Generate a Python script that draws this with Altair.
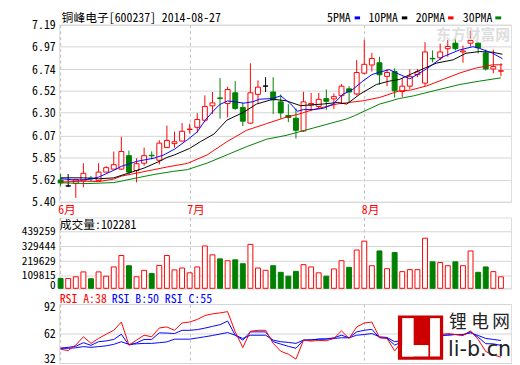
import altair as alt
import pandas as pd

# ---------------- data ----------------
opens = [5.62, 5.56, 5.585, 5.611, 5.64, 5.614, 5.70, 5.73, 5.73, 5.866,
         5.716, 5.79, 5.87, 5.82, 5.948, 5.988, 6.014, 6.13, 6.153, 6.225,
         6.37, 6.45, 6.393, 6.502, 6.354, 6.195, 6.486, 6.57, 6.51, 6.41,
         6.272, 6.245, 6.116, 6.377, 6.364, 6.443, 6.44, 6.473, 6.542, 6.49,
         6.70, 6.783, 6.806, 6.668, 6.717, 6.515, 6.569, 6.686, 6.60, 6.85,
         6.856, 6.948, 7.004, 6.915, 7.004, 7.004, 6.905, 6.743, 6.72]
highs = [5.68, 5.68, 5.63, 5.79, 5.66, 5.79, 5.76, 5.908, 6.057, 5.918,
         5.84, 5.948, 5.91, 6.022, 6.17, 6.11, 6.196, 6.19, 6.295, 6.476,
         6.51, 6.65, 6.562, 6.62, 6.403, 6.80, 6.628, 6.66, 6.66, 6.485,
         6.387, 6.344, 6.512, 6.50, 6.50, 6.535, 6.495, 6.59, 6.569, 6.832,
         7.037, 6.905, 6.866, 6.74, 6.75, 6.65, 6.74, 6.745, 7.014, 6.93,
         6.998, 7.037, 7.06, 6.98, 7.13, 7.01, 6.938, 6.938, 6.80]
lows = [5.56, 5.55, 5.44, 5.547, 5.61, 5.61, 5.70, 5.73, 5.72, 5.67,
        5.596, 5.765, 5.83, 5.777, 5.945, 5.948, 6.01, 6.09, 6.10, 6.205,
        6.288, 6.24, 6.255, 6.33, 6.166, 6.19, 6.40, 6.51, 6.288, 6.24,
        6.205, 6.04, 6.106, 6.32, 6.337, 6.33, 6.337, 6.387, 6.40, 6.476,
        6.69, 6.717, 6.585, 6.569, 6.453, 6.46, 6.54, 6.66, 6.57, 6.81,
        6.832, 6.866, 6.93, 6.806, 6.97, 6.90, 6.727, 6.70, 6.67]
closes = [5.59, 5.56, 5.625, 5.688, 5.63, 5.70, 5.745, 5.775, 5.908, 5.70,
          5.785, 5.866, 5.865, 5.993, 6.02, 6.007, 6.113, 6.135, 6.232, 6.364,
          6.40, 6.445, 6.535, 6.344, 6.215, 6.502, 6.559, 6.57, 6.43, 6.298,
          6.252, 6.123, 6.41, 6.394, 6.436, 6.416, 6.463, 6.569, 6.51, 6.707,
          6.79, 6.849, 6.684, 6.707, 6.522, 6.569, 6.668, 6.713, 6.915, 6.845,
          6.915, 6.97, 6.948, 6.925, 7.03, 6.958, 6.743, 6.767, 6.725]
kinds = ["down", "flat", "up", "up", "down", "up", "up", "up", "up", "down",
         "up", "up", "down", "up", "up", "up", "up", "up", "up", "up",
         "up", "down", "up", "down", "down", "up", "up", "flat", "down", "down",
         "down", "down", "up", "up", "up", "down", "up", "up", "down", "up",
         "up", "up", "down", "up", "down", "up", "up", "up", "up", "down",
         "up", "up", "down", "up", "up", "down", "down", "up", "up"]
volumes = [90000, 90000, 102500, 139000, 88000, 139000, 107000, 176000, 261000, 185000,
           102500, 151000, 127000, 187000, 261000, 154000, 168000, 132000, 176000, 332000,
           266000, 236000, 222000, 229000, 200000, 344000, 168000, 151000, 185000, 136000,
           107000, 143000, 193000, 176000, 132000, 107000, 161000, 222000, 173000, 302000,
           368000, 185000, 295000, 163000, 283000, 141000, 156000, 156000, 390000, 214000,
           209000, 185000, 214000, 185000, 295000, 136000, 176000, 141000, 102281]

ma5_idx = [0, 2, 3.6, 5, 7, 8, 10, 12.3, 13.6, 15, 16.7, 18, 19, 20.2, 21, 22, 23,
           24.1, 25.3, 26.2, 27.9, 29, 30.3, 31.2, 32, 33.3, 34.6, 35.9, 37.2, 38.5,
           39.8, 41, 42, 43.3, 44.5, 46, 48.2, 50.4, 52.5, 54.3, 55.2, 56.9, 58.2]
ma5_val = [5.634, 5.619, 5.626, 5.649, 5.718, 5.758, 5.808, 5.841, 5.874, 5.932, 6.027,
           6.106, 6.220, 6.325, 6.385, 6.419, 6.411, 6.397, 6.411, 6.437, 6.444, 6.471,
           6.390, 6.315, 6.332, 6.332, 6.345, 6.388, 6.487, 6.537, 6.620, 6.686, 6.710,
           6.736, 6.693, 6.643, 6.743, 6.867, 6.934, 6.968, 6.951, 6.902, 6.847]

ma10_idx = [0, 3, 5, 7, 9, 11, 13, 14, 15, 17, 18.4, 20.2, 21.9, 24.1, 25.8, 28, 29.7,
            31.6, 34.5, 36.5, 37.7, 39.4, 41.6, 43.3, 44.6, 46.5, 49.5, 51.7, 53.4,
            55.2, 56.9, 58.2]
ma10_val = [5.642, 5.642, 5.632, 5.642, 5.691, 5.741, 5.808, 5.848, 5.874, 5.94, 6.007,
            6.085, 6.225, 6.305, 6.388, 6.437, 6.421, 6.372, 6.388, 6.404, 6.388, 6.487,
            6.586, 6.620, 6.636, 6.703, 6.802, 6.835, 6.902, 6.919, 6.912, 6.892]

ma20_idx = [0, 3, 5, 7, 8, 10.1, 12.3, 14.1, 16.7, 19.3, 21.9, 24.5, 27.1, 29.7, 31.3,
            33.3, 36.5, 39.8, 42, 44.6, 46.1, 48.2, 50.4, 52.6, 54.7, 56.9, 58.2]
ma20_val = [5.599, 5.609, 5.604, 5.629, 5.659, 5.691, 5.725, 5.753, 5.788, 5.874, 6.007,
            6.123, 6.189, 6.255, 6.285, 6.332, 6.39, 6.421, 6.454, 6.521, 6.529, 6.571,
            6.636, 6.703, 6.752, 6.785, 6.785]

ma30_idx = [0, 3.6, 7, 8, 10.1, 12.3, 14.9, 16.7, 19.3, 21.9, 24.5, 27.1, 29.7, 33.3,
            37.7, 38.7, 42, 44.6, 46.5, 49.1, 52.6, 55.2, 58]
ma30_val = [5.592, 5.584, 5.594, 5.609, 5.642, 5.676, 5.708, 5.725, 5.791, 5.874, 5.957,
            6.032, 6.071, 6.146, 6.238, 6.27, 6.387, 6.444, 6.471, 6.521, 6.586, 6.620,
            6.653]

rsi_a = [46, 44.7, 50.3, 58.7, 52, 57, 61.3, 65.3, 73.7, 50.3,
         55.3, 60.3, 58.7, 67.7, 68.7, 65.3, 72.7, 73.7, 76.3, 80.3,
         82, 83, 84.3, 63.7, 47.7, 64.3, 65.3, 65.3, 52, 44,
         41, 36, 55.3, 54.3, 55, 54.7, 57, 64.7, 57, 68.7,
         72.7, 73.7, 58, 57, 44.3, 54.3, 57, 60, 64.3, 59,
         61, 62, 61, 60, 64.7, 56, 43.7, 40.3, 38]
rsi_b = [47, 48, 49, 52.7, 50, 53.7, 54.5, 56, 61.3, 50.3,
         52.5, 56, 56, 62.7, 62.5, 62, 65.3, 65.3, 66, 67.5,
         69.3, 71, 74.7, 60.3, 55.3, 63.7, 63.7, 63.7, 53.7, 51.3,
         49, 47, 55.3, 55.5, 56.3, 56.5, 57.7, 60.3, 57.7, 63.7,
         65.3, 66.3, 57.7, 57.3, 50.3, 53.5, 55.3, 57.5, 60, 59,
         60, 60.5, 61, 60.5, 63.7, 58.3, 51.7, 51.5, 50]
rsi_c = [47, 47, 47.5, 48.7, 48, 48.7, 49.5, 51, 53.7, 51,
         51.5, 52, 52, 52.7, 53.5, 56.3, 56.3, 56.3, 57.5, 58.7,
         60, 61.5, 63, 60.3, 57, 60.3, 60.3, 60.3, 55.3, 53.7,
         53, 52, 55.3, 55.5, 56.3, 56.5, 57, 57.7, 57.7, 60.3,
         61, 62, 58.7, 58, 53.7, 55, 56.3, 58, 59.7, 59.5,
         60, 60.5, 61, 61, 62.7, 60, 57, 56, 55]

price_ticks = [5.40, 5.62, 5.85, 6.07, 6.30, 6.52, 6.74, 6.97, 7.19]
vol_ticks = [109815, 219629, 329444, 439259]
rsi_ticks = [32, 62, 92]
month_idx = [0, 17, 40]
month_labels = ["6月", "7月", "8月"]

title_text = "铜峰电子[600237] 2014-08-27"
vol_title = "成交量:102281"
rsi_titles = ["RSI_A:38", "RSI_B:50", "RSI_C:55"]
legend_names = ["5PMA", "10PMA", "20PMA", "30PMA"]
logo_cn_chars = ["锂", "电", "网"]
logo_en = "li-b.cn"
watermark_text = "东方财富网"

# ---------------- styling ----------------
MONO = "Noto Sans Mono CJK SC, DejaVu Sans Mono, monospace"
RED, GREEN, BLUE, BLACK = "#ff0000", "#008000", "#0000ff", "#000000"
W = 459.5
H1, H2, H3 = 180, 72, 60
XDOM = [-0.194, 59.33]
VOL_LO = 16838
VOL_HI = 543950

n = len(closes)
idx = list(range(n))
cdf = pd.DataFrame({"i": idx, "o": opens, "h": highs, "l": lows, "c": closes,
                    "k": kinds, "v": volumes})
cdf["vk"] = ["down" if k == "down" else "up" for k in kinds]

xs = alt.Scale(domain=XDOM, nice=False, zero=False, padding=0)
kdom = ["up", "down", "flat"]
stroke_sc = alt.Scale(domain=kdom, range=[RED, GREEN, BLACK])
fill_sc = alt.Scale(domain=kdom, range=["#ffffff", GREEN, BLACK])

month_expr = " : ".join(
    [f"datum.value == {m} ? '{lab}'" for m, lab in zip(month_idx, month_labels)]
) + " : ''"

def xaxis(labels):
    if labels:
        return alt.Axis(values=month_idx, labelExpr=month_expr, grid=True,
                        gridDash=[3, 3], gridColor="#bdbdbd", ticks=False, domain=False,
                        labelColor=RED, labelAlign="left", labelOffset=-3, labelPadding=3,
                        labelFont=MONO, labelFontSize=12, labelBaseline="top", title=None,
                        labelOverlap=False)
    return alt.Axis(values=month_idx, labels=False, grid=True, gridDash=[3, 3],
                    gridColor="#bdbdbd", ticks=False, domain=False, title=None)

def yaxis(vals, expr=None, flush=False, size=12):
    kw = dict(values=vals, grid=True, gridColor="#d4d4d4", ticks=False, domain=False,
              labelFont=MONO, labelFontSize=size, labelColor=BLACK, labelPadding=4,
              title=None, labelOverlap=False, labelFlush=flush)
    if flush:
        kw["labelFlushOffset"] = 2
    if expr:
        kw["labelExpr"] = expr
    return alt.Axis(**kw)

def text_layer(txt, x, y, color=BLACK, size=12, font=MONO, weight="normal", align="left"):
    return alt.Chart(pd.DataFrame({"t": [txt]})).mark_text(
        align=align, baseline="middle", font=font, fontSize=size, color=color,
        fontWeight=weight
    ).encode(text="t:N", x=alt.value(x), y=alt.value(y))

def box(x1, x2, y1, y2, color):
    return alt.Chart(pd.DataFrame({"a": [0]})).mark_rect(color=color).encode(
        x=alt.value(x1), x2=alt.value(x2), y=alt.value(y1), y2=alt.value(y2))

# ---------------- price panel ----------------
py = alt.Scale(domain=[5.40, 7.19], nice=False, zero=False, padding=0)
pax = yaxis(price_ticks, "format(datum.value, '.2f')")
base = alt.Chart(cdf)

wick = base.mark_rule(strokeWidth=1).encode(
    x=alt.X("i:Q", scale=xs, axis=xaxis(True)),
    y=alt.Y("l:Q", scale=py, axis=pax),
    y2="h:Q",
    color=alt.Color("k:N", scale=stroke_sc, legend=None),
)
body = base.mark_bar(size=5, strokeWidth=1).encode(
    x=alt.X("i:Q", scale=xs, axis=xaxis(True)),
    y=alt.Y("o:Q", scale=py, axis=pax),
    y2="c:Q",
    fill=alt.Fill("k:N", scale=fill_sc, legend=None),
    stroke=alt.Stroke("k:N", scale=stroke_sc, legend=None),
)

def ma_line(ix, vals, color):
    return alt.Chart(pd.DataFrame({"i": ix, "v": vals})).mark_line(
        strokeWidth=1, color=color, clip=True
    ).encode(x=alt.X("i:Q", scale=xs, axis=xaxis(True)),
             y=alt.Y("v:Q", scale=py, axis=pax))

legend_x = [272.5, 314.5, 362.5, 410.5]
dash_x = [(300.5, 306), (348.5, 354), (395.5, 401), (443.5, 449.5)]
legend_cols = [BLUE, BLACK, RED, GREEN]
legend_layers = []
for name, lx, (d1, d2), col in zip(legend_names, legend_x, dash_x, legend_cols):
    legend_layers.append(text_layer(name, lx, -7))
    legend_layers.append(
        alt.Chart(pd.DataFrame({"a": [0]})).mark_rule(color=col, strokeWidth=3).encode(
            x=alt.value(d1), x2=alt.value(d2), y=alt.value(-7))
    )

anchor = alt.Chart(pd.DataFrame({"a": [0]})).mark_rule(strokeOpacity=0).encode(
    x=alt.value(-51.5), y=alt.value(-13), y2=alt.value(0))

watermark = text_layer(watermark_text, 383.5, 10.5, color="#dedede", size=15,
                       font="Noto Sans CJK SC", weight="bold")

price = alt.layer(
    wick, watermark, body,
    ma_line(ma30_idx, ma30_val, GREEN),
    ma_line(ma20_idx, ma20_val, RED),
    ma_line(ma10_idx, ma10_val, BLACK),
    ma_line(ma5_idx, ma5_val, BLUE),
    text_layer(title_text, 2.5, -7),
    anchor,
    *legend_layers,
).properties(width=W, height=H1)

# ---------------- volume panel ----------------
vy = alt.Scale(domain=[VOL_LO, VOL_HI], nice=False, zero=False, padding=0)
vol = alt.Chart(cdf).mark_bar(size=5, strokeWidth=1).encode(
    x=alt.X("i:Q", scale=xs, axis=xaxis(False)),
    y=alt.Y("v:Q", scale=vy,
            axis=yaxis([VOL_LO] + vol_ticks,
                       "datum.value < 50000 ? '0' : format(datum.value, 'd')",
                       flush=True, size=11.5)),
    y2=alt.datum(VOL_LO),
    fill=alt.Fill("vk:N", scale=alt.Scale(domain=["up", "down"], range=["#ffffff", GREEN]), legend=None),
    stroke=alt.Stroke("vk:N", scale=alt.Scale(domain=["up", "down"], range=[RED, GREEN]), legend=None),
)
rsi_x = [0.5, 53.5, 107.5]
rsi_cols = [RED, BLUE, BLUE]
volume = alt.layer(
    vol,
    text_layer(vol_title, 0.5, 8),
    *[text_layer(t, x, H2 + 11, color=c) for t, x, c in zip(rsi_titles, rsi_x, rsi_cols)],
).properties(width=W, height=H2)

# ---------------- RSI panel ----------------
ry = alt.Scale(domain=[32, 92], nice=False, zero=False, padding=0)
rdf = pd.DataFrame({"i": idx, "a": rsi_a, "b": rsi_b, "c": rsi_c})
rbase = alt.Chart(rdf)
rax = yaxis(rsi_ticks, flush=True)
rsi_b_line = rbase.mark_line(strokeWidth=1, color=BLUE, clip=True).encode(
    x=alt.X("i:Q", scale=xs, axis=xaxis(False)),
    y=alt.Y("b:Q", scale=ry, axis=rax))
rsi_c_line = rbase.mark_line(strokeWidth=1, color=BLUE, clip=True).encode(
    x=alt.X("i:Q", scale=xs, axis=xaxis(False)), y=alt.Y("c:Q", scale=ry, axis=rax))
rsi_a_line = rbase.mark_line(strokeWidth=1, color=RED, clip=True).encode(
    x=alt.X("i:Q", scale=xs, axis=xaxis(False)), y=alt.Y("a:Q", scale=ry, axis=rax))

# logo (decoration) in pixel coordinates of the RSI panel
logo = [
    box(344.5, 390.5, 11.7, 56.7, "#cc0000"),
    box(348.8, 360.5, 14.3, 53.3, "#ffffff"),
    box(348.8, 375.5, 41.7, 53.3, "#ffffff"),
    box(377.2, 387.2, 14.3, 53.3, "#ffffff"),
]
logo_cn = [text_layer(ch, x, 19.5, color="#222222", size=18, font="Noto Sans CJK SC",
                      align="center")
           for ch, x in zip(logo_cn_chars, [405.5, 428, 449.5])]
logo_en_t = text_layer(logo_en, 395.5, 47, color="#222222", size=21, font="DejaVu Sans")

rsi = alt.layer(rsi_b_line, rsi_c_line, rsi_a_line, *logo, *logo_cn, logo_en_t
                ).properties(width=W, height=H3)

chart = alt.vconcat(price, volume, rsi, spacing=16, bounds="flush").properties(
    padding=0
).configure_view(stroke="#a6a6a6", strokeWidth=1).configure_axis(
    labelOverlap=False
).configure(background="white")

chart.save("out.html", embed_options={"renderer": "svg", "actions": False})
